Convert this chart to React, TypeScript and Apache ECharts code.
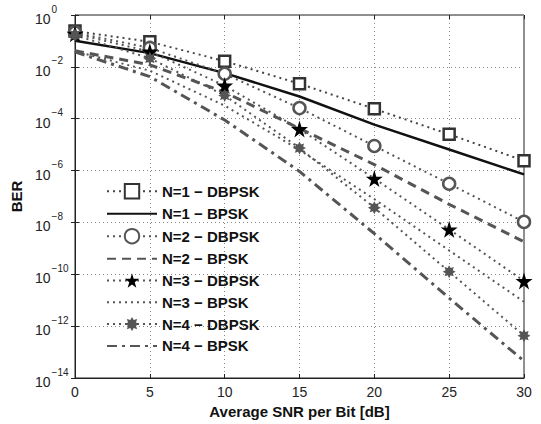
import React, { useEffect, useRef } from "react";
import * as echarts from "echarts";

const snrDb = [0, 5, 10, 15, 20, 25, 30];
const n1Dbpsk = [0.24, 0.093, 0.0166, 2.24e-3, 2.4e-4, 2.5e-5, 2.4e-6];
const n1Bpsk = [0.102, 0.0339, 5.75e-3, 7.2e-4, 5.9e-5, 6.5e-6, 7.1e-7];
const n2Dbpsk = [0.209, 0.0537, 5.4e-3, 2.57e-4, 8.9e-6, 3.1e-7, 1.05e-8];
const n2Bpsk = [0.0417, 0.012, 1.05e-3, 4.2e-5, 1.7e-6, 5.0e-8, 1.8e-9];
const n3Dbpsk = [0.19, 0.0389, 1.9e-3, 4.0e-5, 4.9e-7, 5.4e-9, 5.5e-11];
const n3Bpsk = [0.0398, 7.1e-3, 3.2e-4, 6.3e-6, 7.9e-8, 8.3e-10, 8.7e-12];
const n4Dbpsk = [0.166, 0.0214, 7.9e-4, 7.4e-6, 3.7e-8, 1.26e-10, 4.3e-13];
const n4Bpsk = [0.038, 4.2e-3, 8.9e-5, 9.3e-7, 3.7e-9, 1.2e-11, 4.5e-14];

const seriesNames = [
  "N=1 \u2212 DBPSK",
  "N=1 \u2212 BPSK",
  "N=2 \u2212 DBPSK",
  "N=2 \u2212 BPSK",
  "N=3 \u2212 DBPSK",
  "N=3 \u2212 BPSK",
  "N=4 \u2212 DBPSK",
  "N=4 \u2212 BPSK",
];

const STAR =
  "path://M50,0 L61,35 L98,35 L68,57 L79,91 L50,70 L21,91 L32,57 L2,35 L39,35 Z";
const ASTER =
  "path://M100,50 L77.7,61.5 L85.4,85.4 L61.5,77.7 L50,100 L38.5,77.7 L14.6,85.4 L22.3,61.5 L0,50 L22.3,38.5 L14.6,14.6 L38.5,22.3 L50,0 L61.5,22.3 L85.4,14.6 L77.7,38.5 Z";

const FONT = "Liberation Sans, Arial, Helvetica, sans-serif";

export default function App() {
  const ref = useRef<HTMLDivElement>(null);
  useEffect(() => {
    if (!ref.current) return;
    const chart = echarts.init(ref.current, undefined, { renderer: "svg" });
    const pts = (vals: number[]) => snrDb.map((x, i) => [x, vals[i]]);
    const dotted = { type: [2, 4] as any, width: 2 };
    const series: any[] = [
      {
        name: seriesNames[0],
        type: "line",
        data: pts(n1Dbpsk),
        symbol: "rect",
        symbolSize: 11,
        itemStyle: { color: "#fff", borderColor: "#333", borderWidth: 2.5 },
        lineStyle: { ...dotted, color: "#444" },
      },
      {
        name: seriesNames[1],
        type: "line",
        data: pts(n1Bpsk),
        symbol: "none",
        itemStyle: { color: "#111" },
        lineStyle: { type: "solid", width: 2.5, color: "#111" },
      },
      {
        name: seriesNames[2],
        type: "line",
        data: pts(n2Dbpsk),
        symbol: "circle",
        symbolSize: 12,
        itemStyle: { color: "#fff", borderColor: "#555", borderWidth: 2.5 },
        lineStyle: { ...dotted, color: "#555" },
      },
      {
        name: seriesNames[3],
        type: "line",
        data: pts(n2Bpsk),
        symbol: "none",
        itemStyle: { color: "#555" },
        lineStyle: { type: [9, 6] as any, width: 3, color: "#555" },
      },
      {
        name: seriesNames[4],
        type: "line",
        data: pts(n3Dbpsk),
        symbol: STAR,
        symbolSize: 17,
        itemStyle: { color: "#000" },
        lineStyle: { ...dotted, color: "#555" },
      },
      {
        name: seriesNames[5],
        type: "line",
        data: pts(n3Bpsk),
        symbol: "none",
        itemStyle: { color: "#555" },
        lineStyle: { ...dotted, color: "#555" },
      },
      {
        name: seriesNames[6],
        type: "line",
        data: pts(n4Dbpsk),
        symbol: ASTER,
        symbolSize: 13,
        itemStyle: { color: "#555" },
        lineStyle: { ...dotted, color: "#555" },
      },
      {
        name: seriesNames[7],
        type: "line",
        data: pts(n4Bpsk),
        symbol: "none",
        itemStyle: { color: "#555" },
        lineStyle: { type: [10, 5, 3, 5] as any, width: 3, color: "#555" },
      },
    ];
    const noSymbol = new Set([1, 3, 5, 7]);
    const legendData = seriesNames.map((n, i) =>
      noSymbol.has(i)
        ? { name: n, itemStyle: { color: "transparent", borderWidth: 0, opacity: 0 } }
        : { name: n }
    );
    const splitLine = { show: true, lineStyle: { type: [1, 3] as any, color: "#888", width: 1 } };
    const tick = { show: true, inside: true, length: 4, lineStyle: { color: "#222" } };
    chart.setOption({
      animation: false,
      backgroundColor: "#fff",
      textStyle: { fontFamily: FONT },
      grid: {
        left: 75,
        right: 17,
        top: 15,
        bottom: 46,
        show: true,
        borderColor: "#222",
        borderWidth: 1,
        backgroundColor: "transparent",
      },
      legend: {
        orient: "vertical",
        left: 101,
        top: 178,
        itemWidth: 50,
        itemHeight: 18,
        itemGap: 6.8,
        data: legendData,
        textStyle: {
          fontFamily: FONT,
          fontWeight: "bold",
          fontSize: 15,
          color: "#111",
        },
      },
      xAxis: [
        {
          type: "value",
          min: 0,
          max: 30,
          interval: 5,
          name: "Average SNR per Bit [dB]",
          nameLocation: "middle",
          nameGap: 22,
          nameTextStyle: { fontFamily: FONT, fontWeight: "bold", fontSize: 15, color: "#111" },
          axisLine: { show: true, lineStyle: { color: "#222", width: 1 } },
          axisTick: tick,
          axisLabel: { fontFamily: FONT, fontSize: 14, color: "#222", margin: 7 },
          splitLine,
        },
        {
          type: "value",
          position: "top",
          min: 0,
          max: 30,
          interval: 5,
          axisLine: { show: false },
          axisTick: tick,
          axisLabel: { show: false },
          splitLine: { show: false },
        },
      ],
      yAxis: [
        {
          type: "log",
          logBase: 10,
          min: 1e-14,
          max: 1,
          interval: 2,
          name: "BER",
          nameLocation: "middle",
          nameGap: 50,
          nameTextStyle: { fontFamily: FONT, fontWeight: "bold", fontSize: 15, color: "#111" },
          axisLine: { show: true, lineStyle: { color: "#222", width: 1 } },
          axisTick: tick,
          minorTick: { show: false },
          axisLabel: {
            align: "left",
            margin: 40,
            color: "#222",
            formatter: (v: number) => {
              const e = Math.round(Math.log10(v));
              const s = e < 0 ? "\u2212" + Math.abs(e) : String(e);
              return "{b|10}{s|" + s + "}";
            },
            rich: {
              b: { fontFamily: FONT, fontSize: 14, color: "#222", lineHeight: 22, verticalAlign: "bottom" },
              s: { fontFamily: FONT, fontSize: 10, color: "#222", lineHeight: 22, verticalAlign: "top", padding: [0, 0, 0, 1] },
            },
          },
          splitLine,
        },
        {
          type: "log",
          logBase: 10,
          min: 1e-14,
          max: 1,
          interval: 2,
          position: "right",
          axisLine: { show: false },
          axisTick: tick,
          axisLabel: { show: false },
          splitLine: { show: false },
        },
      ],
      series,
    });
    return () => chart.dispose();
  }, []);
  return (
    <div
      ref={ref}
      style={{ position: "fixed", left: 0, top: 0, width: 541, height: 424, background: "#fff" }}
    />
  );
}
